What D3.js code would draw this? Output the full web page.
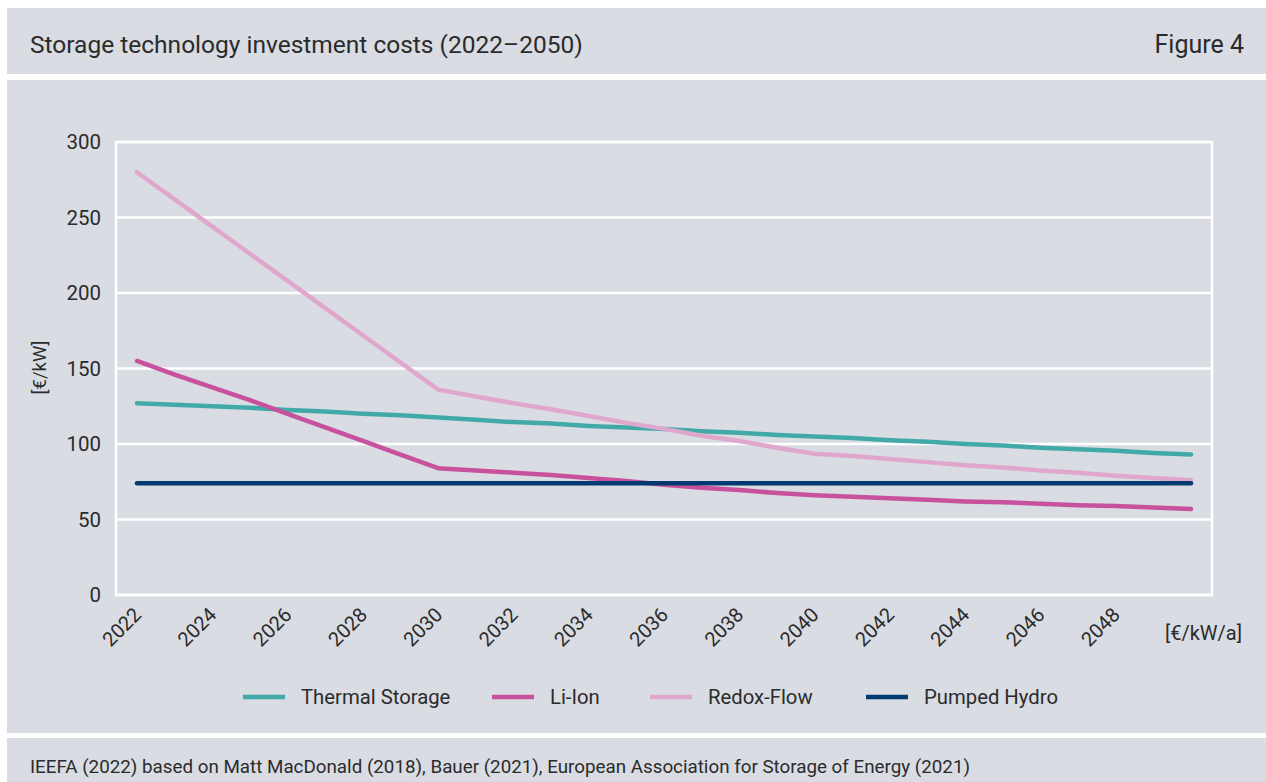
<!DOCTYPE html>
<html>
<head>
<meta charset="utf-8">
<script src="https://cdn.jsdelivr.net/npm/d3@7/dist/d3.min.js"></script>
<style>
  html, body { margin: 0; padding: 0; background: #ffffff; }
  svg { display: block; }
  text { font-family: Roboto, "Noto Sans", sans-serif; fill: #2b2b2b; }
</style>
</head>
<body>
<svg id="chart" width="1266" height="782"></svg>
<script>
// Years on the horizontal axis
const years = d3.range(2022, 2051);
const tickYears = d3.range(2022, 2049, 2);
const yTicks = [0, 50, 100, 150, 200, 250, 300];

// Investment costs per technology, €/kW
const thermalStorage = [127, 126, 125, 124, 122.5, 121.5, 120, 119, 117.5, 116, 114.5, 113.5, 112, 111, 110,
  108.5, 107.5, 106, 105, 104, 102.5, 101.5, 100, 99, 97.5, 96.5, 95.5, 94, 93];
const liIon = [155, 146, 137.5, 129, 120, 111, 102, 93, 84, 82.5, 81, 79.5, 77.5, 75.5, 73,
  71, 69.5, 67.5, 66, 65, 64, 63, 62, 61.5, 60.5, 59.5, 59, 58, 57];
const redoxFlow = [280, 262, 244, 226, 208, 190, 172, 154, 136, 131.5, 127, 123, 118.5, 114, 110,
  105.5, 102, 97.5, 93.5, 92, 90, 88, 86, 84.5, 82.5, 81, 79, 77.5, 76];
const pumpedHydro = years.map(() => 74);

const seriesNames = ["Thermal Storage", "Li-Ion", "Redox-Flow", "Pumped Hydro"];
const seriesValues = [thermalStorage, liIon, redoxFlow, pumpedHydro];
const seriesColors = ["#41aaa9", "#c8519e", "#e0a7cc", "#003a70"];

const svg = d3.select("#chart");
const panelFill = "#d9dce3";
const fontStack = "Roboto, 'Noto Sans', sans-serif";

// Background panels: header, chart body, source footer
svg.append("rect").attr("x", 7).attr("y", 8).attr("width", 1259).attr("height", 66).attr("fill", panelFill);
svg.append("rect").attr("x", 7).attr("y", 80).attr("width", 1259).attr("height", 653).attr("fill", panelFill);
svg.append("rect").attr("x", 7).attr("y", 738).attr("width", 1259).attr("height", 44).attr("fill", panelFill);

svg.append("text").attr("x", 30).attr("y", 53).attr("font-size", 24.5)
  .text("Storage technology investment costs (2022–2050)");
svg.append("text").attr("x", 1244).attr("y", 53).attr("font-size", 25).attr("text-anchor", "end")
  .text("Figure 4");
svg.append("text").attr("x", 30).attr("y", 773).attr("font-size", 18.8)
  .text("IEEFA (2022) based on Matt MacDonald (2018), Bauer (2021), European Association for Storage of Energy (2021)");

// Plot frame
const frame = { left: 116, right: 1212, top: 142, bottom: 595 };
const x = d3.scaleLinear().domain([2022, 2050]).range([137, 1191]);
const y = d3.scaleLinear().domain([0, 300]).range([frame.bottom, frame.top]);

// Horizontal gridlines
svg.append("g").selectAll("line").data(yTicks).join("line")
  .attr("x1", frame.left).attr("x2", frame.right)
  .attr("y1", d => y(d)).attr("y2", d => y(d))
  .attr("stroke", "#ffffff").attr("stroke-width", 2.5);

svg.append("rect")
  .attr("x", frame.left).attr("y", frame.top)
  .attr("width", frame.right - frame.left).attr("height", frame.bottom - frame.top)
  .attr("fill", "none").attr("stroke", "#ffffff").attr("stroke-width", 2.5);

// Y axis labels
const yAxis = d3.axisLeft(y).tickValues(yTicks).tickSize(0).tickPadding(15);
const yg = svg.append("g").attr("transform", `translate(${frame.left},0)`).call(yAxis);
yg.select(".domain").remove();
yg.selectAll("text").attr("font-size", 20.5).attr("fill", "#2b2b2b")
  .style("font-family", fontStack);

svg.append("text")
  .attr("transform", `translate(46,${(frame.top + frame.bottom) / 2 - 1}) rotate(-90)`)
  .attr("text-anchor", "middle").attr("font-size", 18.5).text("[€/kW]");

// X axis labels, rotated
const xAxis = d3.axisBottom(x).tickValues(tickYears).tickFormat(d3.format("d")).tickSize(0).tickPadding(0);
const xg = svg.append("g").attr("transform", `translate(0,${frame.bottom})`).call(xAxis);
xg.select(".domain").remove();
xg.selectAll("text")
  .attr("font-size", 20).attr("fill", "#2b2b2b")
  .style("font-family", fontStack)
  .attr("text-anchor", "end")
  .attr("y", 0)
  .attr("dy", null)
  .attr("transform", "translate(5,21) rotate(-45)");

svg.append("text").attr("x", 1242).attr("y", 640).attr("text-anchor", "end")
  .attr("font-size", 20).text("[€/kW/a]");

// Series lines
const line = d3.line().x((d, i) => x(years[i])).y(d => y(d));
svg.append("g").selectAll("path").data(seriesValues).join("path")
  .attr("d", d => line(d))
  .attr("fill", "none")
  .attr("stroke", (d, i) => seriesColors[i])
  .attr("stroke-width", 4.5)
  .attr("stroke-linecap", "round")
  .attr("stroke-linejoin", "round");

// Legend
const legendX = [243, 492, 650, 866];
const legend = svg.append("g").selectAll("g").data(seriesNames).join("g")
  .attr("transform", (d, i) => `translate(${legendX[i]},697)`);
legend.append("line").attr("x1", 0).attr("x2", 42).attr("y1", 0).attr("y2", 0)
  .attr("stroke", (d, i) => seriesColors[i]).attr("stroke-width", 4.5);
legend.append("text").attr("x", 58).attr("y", 7).attr("font-size", 20.3).text(d => d);
</script>
</body>
</html>
